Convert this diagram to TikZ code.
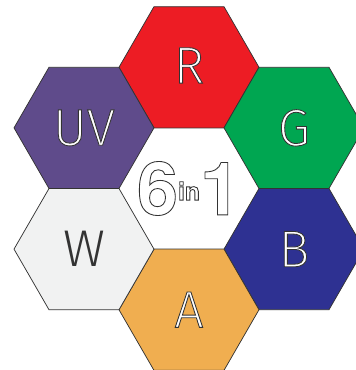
\documentclass[tikz,border=0pt]{standalone}
\usepackage{fontspec}
\setmainfont{TeX Gyre Heros}
\newfontfamily\thinfont{Fira Sans Light}
\usepackage{xcolor}
\usepackage{tikz}
\usetikzlibrary{shapes.geometric, positioning}

\definecolor{hexR}{HTML}{ED1C24}
\definecolor{hexG}{HTML}{00A651}
\definecolor{hexB}{HTML}{2E3192}
\definecolor{hexUV}{HTML}{5F4B8B}
\definecolor{hexW}{HTML}{F1F2F2}
\definecolor{hexA}{HTML}{F0AE50}
\definecolor{hexline}{HTML}{333333}

% lettres blanches au contour gris
\newcommand{\hexlabel}[1]{{\color{white}\special{pdf:code 2 Tr 0.7 w 0.2 0.2 0.2 RG}#1\special{pdf:code 0 Tr}}}

\tikzset{
  hexa/.style={regular polygon, regular polygon sides=6, minimum size=4cm,
    inner sep=0pt, outer sep=0pt, draw=hexline, line width=0.6pt,
    font=\thinfont\fontsize{42}{42}\selectfont}
}

\begin{document}
\begin{tikzpicture}[scale=1.0]
  \clip (-5.4,-5.186) rectangle (4.771,5.386);

  % Hexagone central
  \node[hexa, fill=white, font=\bfseries\fontsize{60}{60}\selectfont] (mid) at (0,0)
    {\hexlabel{6}\raisebox{12pt}{\fontsize{20}{20}\selectfont\hexlabel{in}}\hexlabel{1}};

  % Hexagones couleurs
  \node[hexa, fill=hexR] (R) at (0,3.464) {\raisebox{3pt}{\hexlabel{R}}};
  \node[hexa, fill=hexG] (G) at (3,1.732) {\hexlabel{G}};
  \node[hexa, fill=hexB] (B) at (3,-1.732) {\hexlabel{B}};
  \node[hexa, fill=hexA] (A) at (0,-3.464) {\hexlabel{A}};
  \node[hexa, fill=hexW] (W) at (-3,-1.732) {\textcolor{hexline}{W}};
  \node[hexa, fill=hexUV] (UV) at (-3,1.732) {\hexlabel{UV}};
\end{tikzpicture}
\end{document}
